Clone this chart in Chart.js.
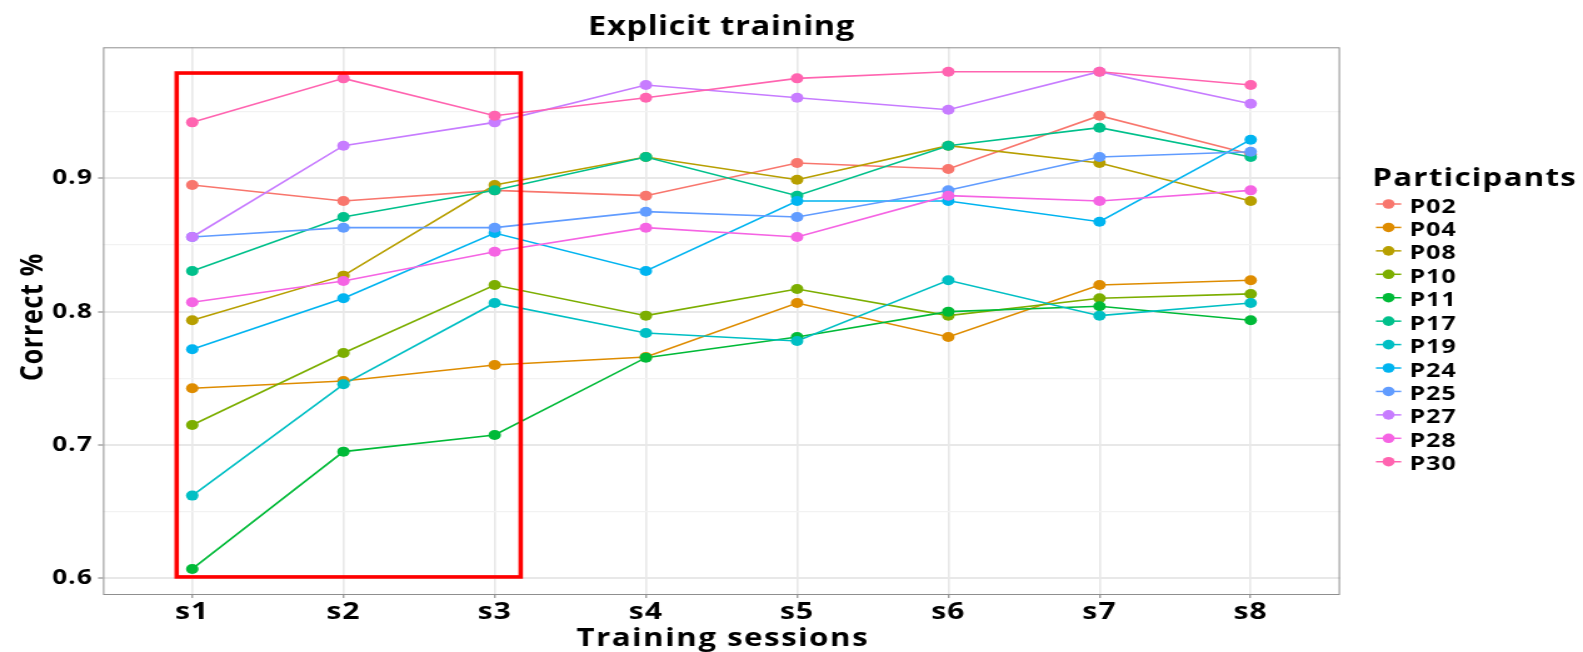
<!DOCTYPE html>
<html>
<head>
<meta charset="utf-8">
<script src="https://cdn.jsdelivr.net/npm/chart.js@4.4.1/dist/chart.umd.min.js"></script>
<style>
  html, body { margin: 0; padding: 0; background: #ffffff; overflow: hidden; }
  #wrap { width: 1583px; height: 652px; overflow: hidden; }
  canvas { display: block; transform-origin: 0 0; }
</style>
</head>
<body>
<div id="wrap"><canvas id="chart" width="1266" height="652"></canvas></div>
<script>
// Training sessions (x categories)
const sessions = ['s1', 's2', 's3', 's4', 's5', 's6', 's7', 's8'];

// Proportion correct per participant, one value per session
const P02 = [0.895, 0.883, 0.891, 0.887, 0.9115, 0.907, 0.947, 0.918];
const P04 = [0.7425, 0.748, 0.760, 0.766, 0.8065, 0.781, 0.820, 0.8235];
const P08 = [0.7935, 0.827, 0.895, 0.916, 0.899, 0.9245, 0.9115, 0.883];
const P10 = [0.715, 0.769, 0.820, 0.797, 0.817, 0.797, 0.810, 0.8133];
const P11 = [0.607, 0.695, 0.7075, 0.7655, 0.781, 0.800, 0.804, 0.7935];
const P17 = [0.8305, 0.871, 0.891, 0.916, 0.887, 0.9245, 0.938, 0.916];
const P19 = [0.662, 0.7455, 0.8065, 0.784, 0.778, 0.8235, 0.797, 0.8065];
const P24 = [0.7718, 0.810, 0.859, 0.8305, 0.883, 0.883, 0.8675, 0.929];
const P25 = [0.856, 0.863, 0.863, 0.875, 0.871, 0.891, 0.916, 0.920];
const P27 = [0.856, 0.9245, 0.942, 0.970, 0.9605, 0.9515, 0.980, 0.956];
const P28 = [0.807, 0.823, 0.845, 0.863, 0.856, 0.887, 0.883, 0.891];
const P30 = [0.942, 0.975, 0.947, 0.9605, 0.975, 0.980, 0.980, 0.970];

const participantNames = ['P02', 'P04', 'P08', 'P10', 'P11', 'P17', 'P19', 'P24', 'P25', 'P27', 'P28', 'P30'];
const participantValues = [P02, P04, P08, P10, P11, P17, P19, P24, P25, P27, P28, P30];

// y-axis tick labels and minor grid positions
const yTicks = [0.6, 0.7, 0.8, 0.9];
const yMinor = [0.65, 0.75, 0.85, 0.95];

// Highlighted block of early sessions (in axis units)
const highlightSessions = { from: -0.103, to: 2.172, low: 0.601, high: 0.979 };

// Hue palette, one colour per participant
const palette = ['#F8766D', '#DE8C00', '#B79F00', '#7CAE00', '#00BA38', '#00C08B',
                 '#00BFC4', '#00B4F0', '#619CFF', '#C77CFF', '#F564E3', '#FF64B0'];

const FONT = "'Open Sans', 'DejaVu Sans', sans-serif";
const W = 1266, H = 652;
const canvas = document.getElementById('chart');
canvas.style.transform = 'scaleX(' + (1583 / W) + ')';

// Lines underneath, points on top; later participants above earlier ones
const datasets = [];
participantNames.forEach((name, i) => {
  const pts = participantValues[i].map((v, k) => ({ x: k, y: v }));
  datasets.push({
    label: name + ' line', data: pts, borderColor: palette[i], backgroundColor: palette[i],
    borderWidth: 1.6, pointRadius: 0, showLine: true, fill: false, order: 100 - i, tension: 0
  });
  datasets.push({
    label: name, data: pts, borderColor: palette[i], backgroundColor: palette[i],
    borderWidth: 0, pointRadius: 5, pointHoverRadius: 5, showLine: false, order: 50 - i
  });
});

const isMajor = v => yTicks.some(t => Math.abs(t - v) < 1e-9);

// Slightly spaced lettering for the axis tick labels
const tickSpacing = {
  id: 'tickSpacing',
  beforeDraw(chart) { chart.ctx.letterSpacing = '0.9px'; }
};

const decorations = {
  id: 'decorations',
  afterDraw(chart) {
    const { ctx, chartArea: a, scales } = chart;
    const xs = scales.x, ys = scales.y;
    ctx.save();
    ctx.letterSpacing = '0px';

    // panel border
    ctx.strokeStyle = '#8f8f8f';
    ctx.lineWidth = 1;
    ctx.strokeRect(a.left + 0.5, a.top + 0.5, a.right - a.left - 1, a.bottom - a.top);

    // red box round the first three sessions
    const bx0 = xs.getPixelForValue(highlightSessions.from);
    const bx1 = xs.getPixelForValue(highlightSessions.to);
    const by0 = ys.getPixelForValue(highlightSessions.high);
    const by1 = ys.getPixelForValue(highlightSessions.low);
    ctx.strokeStyle = '#FF0000';
    ctx.lineWidth = 3.6;
    ctx.lineJoin = 'miter';
    ctx.strokeRect(bx0, by0, bx1 - bx0, by1 - by0);

    ctx.fillStyle = '#000000';
    ctx.textBaseline = 'alphabetic';

    // title
    ctx.font = 'bold 26px ' + FONT;
    ctx.letterSpacing = '0.5px';
    ctx.textAlign = 'center';
    ctx.fillText('Explicit training', (a.left + a.right) / 2, 35);

    // x axis title
    ctx.font = 'bold 25px ' + FONT;
    ctx.letterSpacing = '1.2px';
    ctx.fillText('Training sessions', (a.left + a.right) / 2 + 1, 646);

    // y axis title
    ctx.save();
    ctx.translate(33.5, 317);
    ctx.rotate(-Math.PI / 2);
    ctx.font = 'bold 25px ' + FONT;
    ctx.letterSpacing = '0.7px';
    ctx.textAlign = 'center';
    ctx.fillText('Correct %', 0, 0);
    ctx.restore();

    // legend
    const lx = 1097.5;
    ctx.textAlign = 'left';
    ctx.font = 'bold 25px ' + FONT;
    ctx.letterSpacing = '1px';
    ctx.fillText('Participants', lx, 186);
    ctx.font = 'bold 20px ' + FONT;
    ctx.letterSpacing = '0.8px';
    participantNames.forEach((name, i) => {
      const cy = 204 + i * 23.43;
      ctx.strokeStyle = palette[i];
      ctx.lineWidth = 1.5;
      ctx.beginPath();
      ctx.moveTo(1100.4, cy);
      ctx.lineTo(1120.6, cy);
      ctx.stroke();
      ctx.fillStyle = palette[i];
      ctx.beginPath();
      ctx.arc(1110.5, cy, 4.8, 0, Math.PI * 2);
      ctx.fill();
      ctx.fillStyle = '#000000';
      ctx.fillText(name, 1127.2, cy + 8.5);
    });

    ctx.restore();
  }
};

new Chart(canvas, {
  type: 'scatter',
  data: { datasets },
  options: {
    responsive: false,
    devicePixelRatio: 1,
    animation: false,
    events: [],
    layout: { padding: { left: 0, right: W - 1071.6, top: 47.3, bottom: 0 } },
    plugins: { legend: { display: false }, tooltip: { enabled: false }, title: { display: false } },
    scales: {
      x: {
        type: 'linear',
        min: -0.59,
        max: 7.59,
        afterBuildTicks: s => { s.ticks = sessions.map((_, i) => ({ value: i })); },
        afterFit: s => { s.height = H - 594; },
        border: { display: false },
        grid: { color: '#E8E8E8', lineWidth: 1.6, drawTicks: true, tickLength: 4, tickColor: '#7a7a7a', tickWidth: 1 },
        ticks: {
          callback: v => sessions[v],
          color: '#000000',
          padding: 0,
          maxRotation: 0,
          autoSkip: false,
          font: { family: FONT, size: 24, weight: 'bold' }
        }
      },
      y: {
        type: 'linear',
        min: 0.5882,
        max: 0.9983,
        afterBuildTicks: s => { s.ticks = yTicks.concat(yMinor).sort((p, q) => p - q).map(v => ({ value: v })); },
        afterFit: s => { s.width = 82.4; },
        border: { display: false },
        grid: {
          color: c => isMajor(c.tick.value) ? '#E8E8E8' : '#F2F2F2',
          lineWidth: c => isMajor(c.tick.value) ? 2 : 1.2,
          drawTicks: true,
          tickLength: 4,
          tickColor: c => isMajor(c.tick.value) ? '#7a7a7a' : 'rgba(0,0,0,0)',
          tickWidth: 1
        },
        ticks: {
          callback: v => isMajor(v) ? v.toFixed(1) : '',
          color: '#000000',
          padding: 4,
          autoSkip: false,
          font: { family: FONT, size: 21, weight: 'bold' }
        }
      }
    }
  },
  plugins: [tickSpacing, decorations]
});
</script>
</body>
</html>
